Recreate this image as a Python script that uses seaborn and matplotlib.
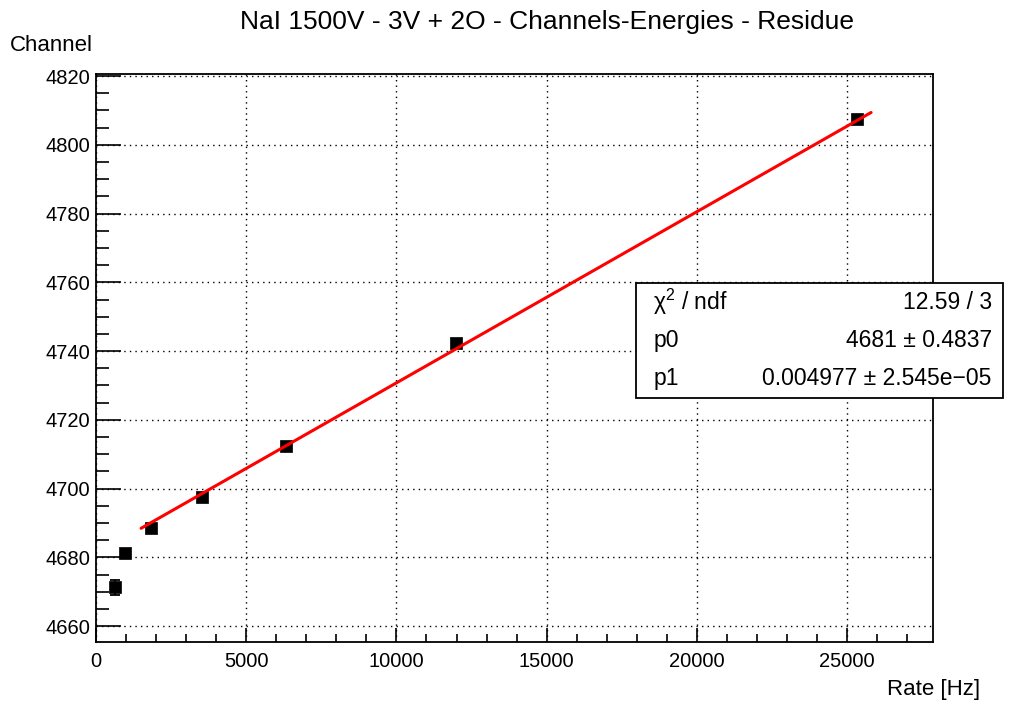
import numpy as np
import pandas as pd
import matplotlib
matplotlib.use("Agg")
import matplotlib.pyplot as plt
from matplotlib.ticker import MultipleLocator
import seaborn as sns

# Measured peak channel versus count rate
rate_hz = [630, 965, 1830, 3530, 6325, 11985, 25330]
channel = [4671.3, 4681.2, 4688.5, 4697.5, 4712.3, 4742.3, 4807.4]
channel_err = [2.2, 0.6, 0.4, 0.4, 0.4, 0.4, 0.4]

# Linear fit parameters: channel = p0 + p1 * rate
p0 = 4681.0
p1 = 0.004977
fit_range = [1500, 25800]
stats_rows = [("χ$^{2}$ / ndf", "12.59 / 3"),
              ("p0", "4681 ± 0.4837"),
              ("p1", "0.004977 ± 2.545e−05")]

title = "NaI 1500V - 3V + 2O - Channels-Energies - Residue"
x_label = "Rate [Hz]"
y_label = "Channel"

sns.set_theme(style="white")
plt.rcParams["font.family"] = ["Liberation Sans", "DejaVu Sans"]
plt.rcParams["mathtext.fontset"] = "custom"
plt.rcParams["mathtext.rm"] = "Liberation Sans"
for k in ["text.color", "axes.labelcolor", "xtick.color", "ytick.color"]:
    plt.rcParams[k] = "black"

fig = plt.figure(figsize=(10.13, 7.02), dpi=100)
ax = fig.add_axes([0.0948, 0.0855, 0.8262, 0.8091])

df = pd.DataFrame({"rate": rate_hz, "channel": channel})
ax.errorbar(rate_hz, channel, yerr=channel_err, fmt="none", ecolor="black",
            elinewidth=1.3, capsize=3.5, capthick=1.3, zorder=3)
sns.scatterplot(data=df, x="rate", y="channel", marker="s", s=85,
                color="black", edgecolor="black", linewidth=0.5, ax=ax, zorder=4)

fx = np.linspace(fit_range[0], fit_range[1], 50)
fit_df = pd.DataFrame({"rate": fx, "channel": p0 + p1 * fx})
sns.lineplot(data=fit_df, x="rate", y="channel", color="red", linewidth=2.2,
             ax=ax, zorder=5)

ax.set_xlim(0, 27860)
ax.set_ylim(4655.4, 4820.6)
ax.xaxis.set_major_locator(MultipleLocator(5000))
ax.xaxis.set_minor_locator(MultipleLocator(1000))
ax.yaxis.set_major_locator(MultipleLocator(20))
ax.yaxis.set_minor_locator(MultipleLocator(5))
ax.tick_params(which="both", direction="in", width=1.2, bottom=True, left=True,
               top=False, right=False, labelsize=14.5)
ax.tick_params(axis="x", which="major", length=10, pad=7)
ax.tick_params(axis="x", which="minor", length=5.5)
ax.tick_params(axis="y", which="major", length=18, pad=4)
ax.tick_params(axis="y", which="minor", length=9)
ax.grid(True, which="major", linestyle=(0, (1, 3)), color="black", linewidth=1.0)
for s in ax.spines.values():
    s.set_color("black")
    s.set_linewidth(1.3)

ax.set_xlabel("")
ax.set_ylabel("")
fig.text(0.968, 0.003, x_label, ha="right", va="bottom", fontsize=16)
fig.text(0.010, 0.935, y_label, ha="left", va="center", fontsize=16)
fig.text(0.54, 1 - 22 / 702, title, ha="center", va="center", fontsize=19)

# Fit statistics box
bx0, by0, bw, bh = 636 / 1013, 1 - 398 / 702, 367 / 1013, 115 / 702
box = plt.Rectangle((bx0, by0), bw, bh, transform=fig.transFigure,
                    facecolor="white", edgecolor="black", linewidth=1.3, zorder=10)
fig.patches.append(box)
for i, (lab, val) in enumerate(stats_rows):
    yc = by0 + bh * (1 - (i + 0.5) / 3)
    fig.text(bx0 + 0.017, yc, lab, ha="left", va="center", fontsize=16.5, zorder=11)
    fig.text(bx0 + bw - 0.011, yc, val, ha="right", va="center", fontsize=16.5, zorder=11)

fig.savefig("out.png", dpi=100)
